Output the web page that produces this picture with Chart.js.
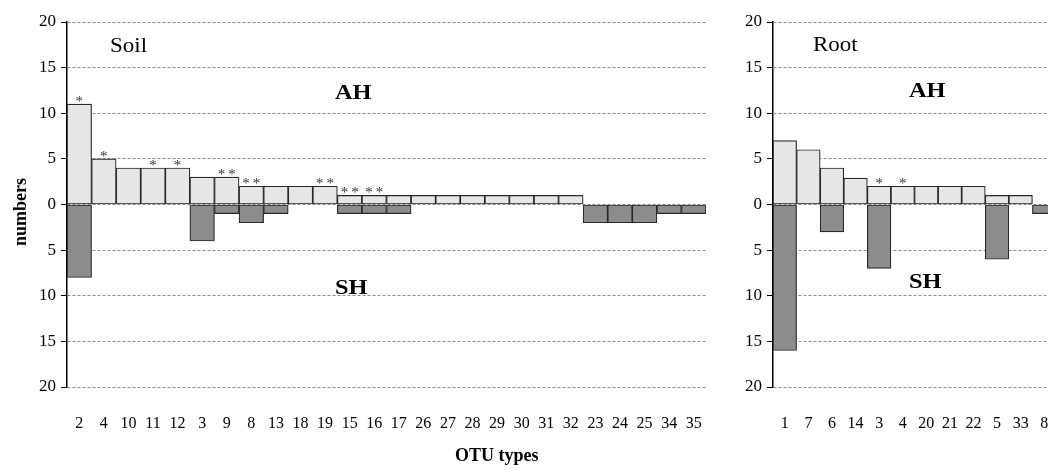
<!DOCTYPE html>
<html>
<head>
<meta charset="utf-8">
<script src="https://cdn.jsdelivr.net/npm/chart.js@4/dist/chart.umd.min.js"></script>
<style>
  html, body { margin: 0; padding: 0; background: #fff; }
  #wrap { position: relative; width: 1048px; height: 470px; overflow: hidden; background: #fff; }
  .cv { position: absolute; top: 0; }
  .lbl { position: absolute; font-family: "Liberation Serif", "Times New Roman", serif; color: #000; white-space: nowrap; line-height: 1; }
  .b { font-weight: bold; }
  .big { font-size: 20px; transform: scaleX(1.22); transform-origin: left center; }
  .name { font-size: 20px; transform: scaleX(1.15); transform-origin: left center; }
</style>
</head>
<body>
<div id="wrap">
  <div class="cv" style="left:0;width:712px;height:470px;"><canvas id="soil"></canvas></div>
  <div class="cv" style="left:710px;width:351px;height:470px;"><canvas id="root"></canvas></div>
  <div class="lbl name" style="left:110px;top:35px;">Soil</div>
  <div class="lbl b big" style="left:335px;top:82px;">AH</div>
  <div class="lbl b big" style="left:335px;top:277px;">SH</div>
  <div class="lbl name" style="left:813px;top:34px;">Root</div>
  <div class="lbl b big" style="left:909px;top:80px;">AH</div>
  <div class="lbl b big" style="left:909px;top:271px;">SH</div>
  <div class="lbl b" style="left:455px;top:446px;font-size:18px;">OTU types</div>
  <div class="lbl b" style="left:20px;top:212px;font-size:18px;transform:translate(-50%,-50%) rotate(-90deg);">numbers</div>
</div>
<script>
// ---- Soil data ----
const soilCategories = ['2','4','10','11','12','3','9','8','13','18','19','15','16','17','26','27','28','29','30','31','32','23','24','25','34','35'];
const soilAH = [11,5,4,4,4,3,3,2,2,2,2,1,1,1,1,1,1,1,1,1,1,0,0,0,0,0];
const soilSH = [-8,0,0,0,0,-4,-1,-2,-1,0,0,-1,-1,-1,0,0,0,0,0,0,0,-2,-2,-2,-1,-1];
const soilMarks = ['*','*','','*','*','','**','**','','','**','**','**','','','','','','','','','','','','',''];

// ---- Root data ----
const rootCategories = ['1','7','6','14','3','4','20','21','22','5','33','8'];
const rootAH = [7,6,4,2.9,2,2,2,2,2,1,1,0];
const rootSH = [-16,0,-3,0,-7,0,0,0,0,-6,0,-1];
const rootMarks = ['','','','','*','*','','','','','',''];

// ---- Y ticks ----
const yMin = -20, yMax = 20, yStep = 5;

const SERIF = '"Liberation Serif", "Times New Roman", serif';
const AH_FILL = '#e6e6e6', SH_FILL = '#8c8c8c', EDGE = '#2a2a2a';

const markPlugin = {
  id: 'marks',
  afterDatasetsDraw(chart, args, opts) {
    const ctx = chart.ctx;
    const meta = chart.getDatasetMeta(0);
    const ys = chart.scales.y;
    ctx.save();
    ctx.fillStyle = '#333';
    ctx.font = '15px ' + SERIF;
    ctx.textAlign = 'center';
    ctx.textBaseline = 'alphabetic';
    opts.marks.forEach((m, i) => {
      if (!m) return;
      const x = meta.data[i].x;
      const y = ys.getPixelForValue(opts.ah[i]);
      const txt = m.split('').join('\u2009');
      ctx.fillText(txt, x, y + 2);
    });
    ctx.restore();
  }
};

function makeChart(id, cats, ah, sh, marks, yWidth, rightPad) {
  return new Chart(document.getElementById(id), {
    type: 'bar',
    data: {
      labels: cats,
      datasets: [
        { label: 'AH', data: ah, backgroundColor: AH_FILL, borderColor: EDGE, borderWidth: 1.2, borderSkipped: false, barPercentage: 1, categoryPercentage: 1 },
        { label: 'SH', data: sh, backgroundColor: SH_FILL, borderColor: EDGE, borderWidth: 1.2, borderSkipped: false, barPercentage: 1, categoryPercentage: 1 }
      ]
    },
    plugins: [markPlugin],
    options: {
      responsive: true,
      maintainAspectRatio: false,
      animation: false,
      devicePixelRatio: 1,
      layout: { padding: { top: 22, right: rightPad, left: 0, bottom: 0 } },
      plugins: {
        legend: { display: false },
        tooltip: { enabled: false },
        marks: { marks: marks, ah: ah }
      },
      scales: {
        x: {
          stacked: true,
          grid: { display: true, drawOnChartArea: false, drawTicks: true, tickLength: 25, tickColor: 'rgba(0,0,0,0)', color: 'rgba(0,0,0,0)' },
          border: { display: false },
          ticks: { color: '#000', font: { family: SERIF, size: 16 }, padding: 2, maxRotation: 0, autoSkip: false },
          afterFit(s) { s.height = 83; }
        },
        y: {
          stacked: true,
          min: yMin, max: yMax,
          ticks: { stepSize: yStep, color: '#000', font: { family: SERIF, size: 17 }, padding: 5,
                   callback: v => Math.abs(v) },
          grid: { color: '#8f8f8f', lineWidth: 1, tickLength: 6, tickColor: '#000', tickBorderDash: [] },
          border: { display: true, color: '#000', width: 1.5, dash: [3, 2] },
          afterFit(s) { s.width = yWidth; }
        }
      }
    }
  });
}

makeChart('soil', soilCategories, soilAH, soilSH, soilMarks, 67, 6);
makeChart('root', rootCategories, rootAH, rootSH, rootMarks, 63, 5);
</script>
</body>
</html>
